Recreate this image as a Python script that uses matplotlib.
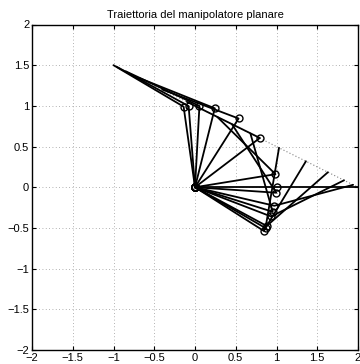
import numpy as np
import matplotlib
matplotlib.use("Agg")
import matplotlib.pyplot as plt

plt.rcParams['font.family'] = ['Liberation Sans', 'DejaVu Sans']

title_text = "Traiettoria del manipolatore planare"

# two-link planar arm
link_lengths = [1.0, 1.0]
base = [0.0, 0.0]

# straight end-effector path
path_start = [-1.0, 1.5]
path_end = [2.0, 0.0]

# fraction of the path covered at each drawn pose
path_fraction = [0.0, 0.015, 0.05, 0.105, 0.2, 0.3, 0.425, 0.485,
                 0.56, 0.677, 0.787, 0.877, 0.943, 0.98, 1.0]

ticks = [-2, -1.5, -1, -0.5, 0, 0.5, 1, 1.5, 2]
tick_labels = ['\u22122', '\u22121.5', '\u22121', '\u22120.5', '0',
               '0.5', '1', '1.5', '2']


def inverse_kinematics(px, py, l1, l2):
    c2 = (px**2 + py**2 - l1**2 - l2**2) / (2 * l1 * l2)
    q2 = np.arccos(np.clip(c2, -1.0, 1.0))
    q1 = np.arctan2(py, px) - np.arctan2(l2 * np.sin(q2), l1 + l2 * np.cos(q2))
    return q1, q2


fig = plt.figure(figsize=(3.6, 3.64), dpi=100)
ax = fig.add_axes([32 / 360, 14 / 364, 326 / 360, 325.5 / 364])

# end-effector path
ax.plot([path_start[0], path_end[0]], [path_start[1], path_end[1]],
        color='0.5', lw=0.8, linestyle=(0, (1, 2)), zorder=2)

l1, l2 = link_lengths
p0 = np.array(path_start)
p1 = np.array(path_end)
for s in path_fraction:
    p = p0 + s * (p1 - p0)
    q1, q2 = inverse_kinematics(p[0], p[1], l1, l2)
    elbow = np.array(base) + l1 * np.array([np.cos(q1), np.sin(q1)])
    tip = elbow + l2 * np.array([np.cos(q1 + q2), np.sin(q1 + q2)])
    xs = [base[0], elbow[0], tip[0]]
    ys = [base[1], elbow[1], tip[1]]
    ax.plot(xs, ys, color='black', lw=1.3, solid_capstyle='round', zorder=3)
    ax.plot(xs[:2], ys[:2], linestyle='none', marker='o', ms=5,
            mfc='none', mec='black', mew=1.0, zorder=4)

ax.set_xlim(-2, 2)
ax.set_ylim(-2, 2)
ax.set_xticks(ticks)
ax.set_yticks(ticks)
ax.set_xticklabels(tick_labels)
ax.set_yticklabels(tick_labels)
ax.tick_params(direction='in', length=3, width=0.8, labelsize=8,
               top=True, right=True, pad=2, colors='black')
ax.grid(True, color='0.6', lw=0.6, linestyle=(0, (1, 3)))
for sp in ax.spines.values():
    sp.set_linewidth(1.0)
    sp.set_color('black')

ax.set_title(title_text, fontsize=8, pad=5)

fig.savefig("out.png", dpi=100)
